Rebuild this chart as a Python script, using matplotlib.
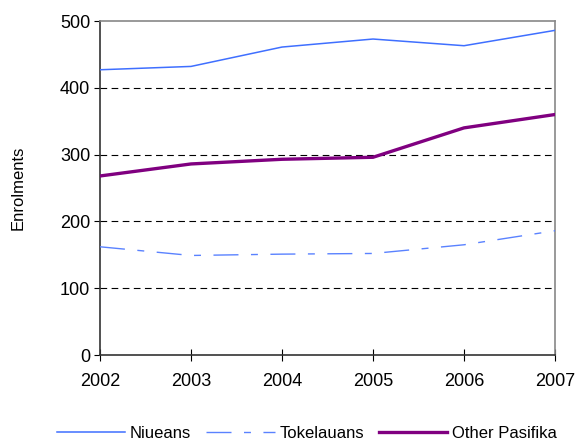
import matplotlib
matplotlib.use("Agg")
import matplotlib.pyplot as plt

plt.rcParams['font.family'] = ['Liberation Sans', 'DejaVu Sans']

years = [2002, 2003, 2004, 2005, 2006, 2007]
niueans = [427, 432, 461, 473, 463, 486]
tokelauans = [162, 149, 151, 152, 165, 186]
other_pasifika = [268, 286, 293, 296, 340, 360]
y_ticks = [0, 100, 200, 300, 400, 500]

fig = plt.figure(figsize=(5.76, 4.41), dpi=100)
ax = fig.add_axes([100/576, 1-355/441, 455/576, 334/441])

for y in y_ticks[1:-1]:
    ax.axhline(y, color='black', lw=0.8, ls=(0, (6, 4)), zorder=1)

ax.plot(years, niueans, color='#3F6FFF', lw=1.1, label='Niueans', zorder=3)
ax.plot(years, tokelauans, color='#5A82FF', lw=1.0, ls=(0, (18, 9, 5, 9)), label='Tokelauans', zorder=3)
ax.plot(years, other_pasifika, color='#800080', lw=2.4, label='Other Pasifika', zorder=3)

ax.set_xlim(2002, 2007)
ax.set_ylim(0, 500)
ax.set_xticks(years)
ax.set_yticks(y_ticks)
ax.tick_params(axis='x', direction='inout', length=8, width=0.8, labelsize=13, pad=9)
ax.tick_params(axis='y', direction='out', length=4, width=0.8, labelsize=13, pad=3)
ax.set_ylabel('Enrolments', fontsize=12, labelpad=25)

for s in ['left', 'bottom']:
    ax.spines[s].set_color('#333333')
    ax.spines[s].set_linewidth(1.2)
for s in ['top', 'right']:
    ax.spines[s].set_color('#888888')
    ax.spines[s].set_linewidth(1.2)

fig.legend(loc='center', bbox_to_anchor=(307/576, 1-433/441), ncol=3, frameon=False,
           fontsize=12, handlelength=4.1, handletextpad=0.3, columnspacing=0.9)

fig.savefig('out.png', dpi=100)
